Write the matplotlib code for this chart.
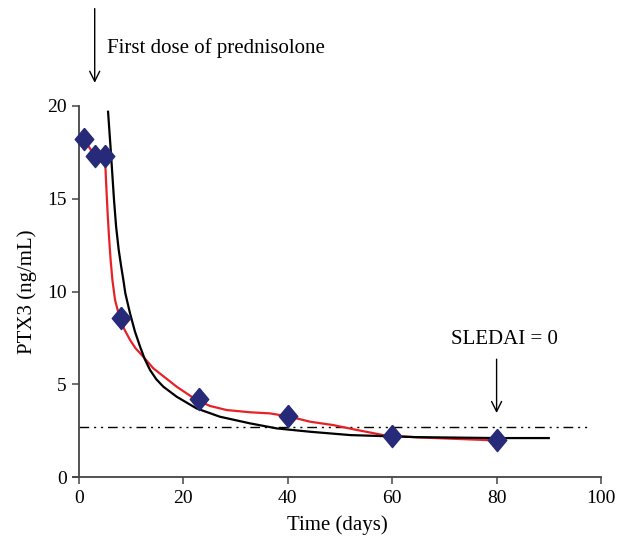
import matplotlib
matplotlib.use("Agg")
import matplotlib.pyplot as plt

# measured PTX3 values (diamonds)
days = [1, 3, 5, 8, 23, 40, 60, 80]
ptx3 = [18.2, 17.3, 17.3, 8.57, 4.2, 3.29, 2.2, 2.0]

# red smoothed curve
red_x = [1, 3, 5, 5.04, 5.15, 5.3, 5.5, 5.75, 6.05, 6.4, 6.9, 7.4, 7.85, 8.7, 9.77, 10.8, 12, 14.23,
         18.7, 22.5, 25.1, 28.3, 32.8, 36.6, 40.4, 44.3, 48.7, 53, 58.3, 64.7, 70, 77.5, 80]
red_y = [18.2, 17.3, 17.3, 16.82, 16.1, 15.2, 14.1, 12.9, 11.7, 10.6, 9.54, 9.0, 8.55, 7.95, 7.39, 6.95, 6.58, 5.86,
         4.87, 4.15, 3.83, 3.61, 3.49, 3.43, 3.25, 2.98, 2.8, 2.55, 2.26, 2.14, 2.08, 2.0, 1.96]

# black fitted curve
blk_x = [5.56, 6.07, 6.7, 7.1, 7.6, 8.1, 8.49, 8.87, 9.77, 10.7, 11.7, 12.6, 13.6, 14.8, 16.15,
         18.7, 22.5, 27, 32.8, 37.9, 44.3, 52, 64.7, 80, 90]
blk_y = [19.69, 17.63, 14.93, 13.5, 12.24, 11.3, 10.62, 9.9, 8.82, 7.85, 7.02, 6.35, 5.77, 5.27, 4.87,
         4.33, 3.7, 3.25, 2.89, 2.62, 2.44, 2.26, 2.15, 2.1, 2.1]

threshold = 2.7
threshold_span = (0, 97.3)
xticks = [0, 20, 40, 60, 80, 100]
yticks = [0, 5, 10, 15, 20]

plt.rcParams['font.family'] = ['Liberation Serif', 'DejaVu Serif']

fig = plt.figure(figsize=(6.27, 5.43), dpi=100)
ax = fig.add_axes([0.1165, 0.1215, 0.842, 0.6833])

ax.hlines(threshold, threshold_span[0], threshold_span[1], color='black', lw=1.0,
          linestyles=[(0, (7, 3.5, 1.5, 3.5, 1.5, 3.5))])
ax.plot(red_x, red_y, color='#e82127', lw=1.6, zorder=3, solid_joinstyle='round')
ax.plot(blk_x, blk_y, color='black', lw=1.6, zorder=4, solid_joinstyle='round')
ax.plot(days, ptx3, linestyle='none', marker=[(0, 1.2), (1, 0), (0, -1.2), (-1, 0), (0, 1.2)],
        markersize=16, color='#262a78', zorder=5)

ax.set_xlim(-1.15, 100)
ax.set_ylim(0, 20)
ax.set_xticks(xticks)
ax.set_yticks(yticks)
for s in ['top', 'right']:
    ax.spines[s].set_visible(False)
ax.spines['left'].set_position(('data', 0))
for s in ['left', 'bottom']:
    ax.spines[s].set_color('#444444')
    ax.spines[s].set_linewidth(1.3)
ax.tick_params(direction='out', length=5, width=1.1, color='#444444',
               labelsize=14, pad=4)

ax.set_xlabel('Time (days)', fontsize=15, labelpad=6)
ax.set_ylabel('PTX3 (ng/mL)', fontsize=15, labelpad=7)

ax.annotate('', xy=(3, 21.1), xytext=(3, 25.4), annotation_clip=False,
            arrowprops=dict(arrowstyle='->', color='black', lw=1.0,
                            mutation_scale=18))
ax.text(5.4, 23.1, 'First dose of prednisolone', fontsize=15, va='center',
        ha='left')

ax.annotate('', xy=(80, 3.3), xytext=(80, 6.5),
            arrowprops=dict(arrowstyle='->', color='black', lw=1.0,
                            mutation_scale=18))
ax.text(81.5, 7.4, 'SLEDAI = 0', fontsize=15, va='center', ha='center')

fig.savefig('out.png', dpi=100)
